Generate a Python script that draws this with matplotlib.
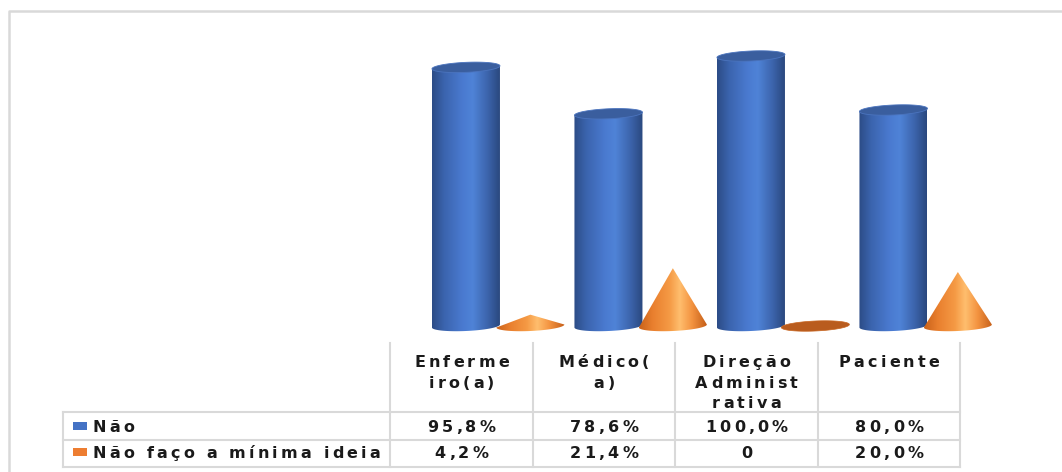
import numpy as np
import matplotlib
matplotlib.use("Agg")
import matplotlib.pyplot as plt
from matplotlib.colors import LinearSegmentedColormap
from matplotlib.patches import Polygon, Rectangle
from matplotlib.font_manager import FontProperties, findfont, get_font

try:
    from matplotlib.ft2font import LoadFlags
    NO_HINT = LoadFlags.NO_HINTING
except ImportError:
    from matplotlib.ft2font import LOAD_NO_HINTING as NO_HINT

# ---- data ----
categories = [["Enferme", "iro(a)"], ["Médico(", "a)"],
              ["Direção", "Administ", "rativa"], ["Paciente"]]
series_names = ["Não", "Não faço a mínima ideia"]
nao = [95.8, 78.6, 100.0, 80.0]
nao_ideia = [4.2, 21.4, 0.0, 20.0]
nao_labels = ["95,8%", "78,6%", "100,0%", "80,0%"]
nao_ideia_labels = ["4,2%", "21,4%", "0", "20,0%"]

W, H, DPI = 1062, 472, 100
BLUE, ORANGE = "#4472C4", "#ED7D31"
GRID = "#D9D9D9"

fig = plt.figure(figsize=(W / DPI, H / DPI), dpi=DPI, facecolor="white")

# pixel-space layer for the frame and the data table
lay = fig.add_axes([0, 0, 1, 1])
lay.set_xlim(0, W); lay.set_ylim(H, 0); lay.axis("off")

# ---- letter-spaced text ----
FP = FontProperties(family="DejaVu Sans", weight="bold", size=11.5)
_font = get_font(findfont(FP))
_font.set_size(FP.get_size_in_points(), 72)
TRACK = 3.2


def advances(s):
    out = []
    for c in s:
        g = _font.load_char(ord(c), flags=NO_HINT)
        out.append(g.linearHoriAdvance / 65536 * DPI / 72)
    return out


def tracked(x, y, s, ha="center", color="#1a1a1a"):
    adv = advances(s)
    total = sum(adv) + TRACK * (len(s) - 1)
    x0 = x - total / 2 if ha == "center" else x
    for c, a in zip(s, adv):
        lay.text(x0, y, c, fontproperties=FP, color=color, ha="left", va="baseline")
        x0 += a + TRACK


# outer chart-area border (runs off the right and bottom edges)
lay.plot([9, 9, W], [H, 11, 11], color=GRID, lw=1.8, solid_capstyle="butt")

# ---- table ----
col_edges = [390, 533, 675, 818, 960]
leg_left, head_top = 63, 343
row_lines = [412, 440, 467]
for x in col_edges:
    lay.plot([x, x], [head_top, row_lines[-1]], color=GRID, lw=1.5)
lay.plot([leg_left, leg_left], [row_lines[0], row_lines[-1]], color=GRID, lw=1.5)
for y in row_lines:
    lay.plot([leg_left, col_edges[-1]], [y, y], color=GRID, lw=1.5)

for i, lines in enumerate(categories):
    cx = (col_edges[i] + col_edges[i + 1]) / 2
    for k, ln in enumerate(lines):
        tracked(cx, 367 + 20.5 * k, ln)

row_base = [432, 458]
for r, (name, labels, col) in enumerate(zip(series_names, [nao_labels, nao_ideia_labels],
                                             [BLUE, ORANGE])):
    yb = row_base[r]
    lay.add_patch(Rectangle((73, yb - 10.5), 14, 8, color=col, lw=0))
    tracked(93, yb, name, ha="left")
    for i, lab in enumerate(labels):
        cx = (col_edges[i] + col_edges[i + 1]) / 2
        tracked(cx, yb, lab)

# ---- 3D-look cylinders and cones ----
# value 0 sits at pixel row 326, 100 % is 270 px above it; one category = one table column
base_px, px_y = 326, 270 / 100.0
px_x = (col_edges[-1] - col_edges[0]) / 4.0
top_px, bot_px = 20, 342
ax = fig.add_axes([col_edges[0] / W, (H - bot_px) / H, (W - col_edges[0]) / W,
                   (bot_px - top_px) / H])
ax.axis("off")
A = 34 / px_x          # half width
B = 5.0 / px_y         # ellipse half height
S = 1.5 / px_y         # perspective tilt of the ellipses
CYL_OFF, CONE_OFF = 0.533, 0.985

cyl_cmap = LinearSegmentedColormap.from_list(
    "cyl", [(0, "#2C4C86"), (0.18, "#3B64AE"), (0.45, "#4A7AD0"),
            (0.6, "#4F83D7"), (0.82, "#3C64AC"), (1, "#2A487E")])
cone_cmap = LinearSegmentedColormap.from_list(
    "cone", [(0, "#C9621A"), (0.2, "#E97F2E"), (0.45, "#F59A45"),
             (0.6, "#FFBE6E"), (0.78, "#F39340"), (1, "#C55E18")])
grad = np.linspace(0, 1, 256)[None, :]
t_front = np.linspace(np.pi, 2 * np.pi, 80)
t_full = np.linspace(0, 2 * np.pi, 160)


def ellipse_pts(cx, cy, t):
    return np.column_stack([cx + A * np.cos(t), cy + B * np.sin(t) + S * np.cos(t)])


def cylinder(cx, h):
    body = np.vstack([ellipse_pts(cx, 0, t_front), [[cx + A, h + S], [cx - A, h - S]]])
    clip = Polygon(body, closed=True, transform=ax.transData, fc="none", ec="none")
    ax.add_patch(clip)
    im = ax.imshow(grad, cmap=cyl_cmap, extent=[cx - A, cx + A, -B - S, h + S],
                   aspect="auto", interpolation="bilinear", zorder=2)
    im.set_clip_path(clip)
    ax.add_patch(Polygon(ellipse_pts(cx, h, t_full), closed=True, fc="#3A5E9E",
                         ec="#4B74BE", lw=0.6, zorder=3))


def cone(cx, h):
    if h <= 0:
        ax.add_patch(Polygon(ellipse_pts(cx, 0, t_full), closed=True, fc="#B95C1E",
                             ec="#C86520", lw=0.5, zorder=2))
        return
    sil = np.vstack([[[cx, h]], ellipse_pts(cx, 0, t_front)])
    clip = Polygon(sil, closed=True, transform=ax.transData, fc="none", ec="none")
    ax.add_patch(clip)
    im = ax.imshow(grad, cmap=cone_cmap, extent=[cx - A, cx + A, -B - S, h],
                   aspect="auto", interpolation="bilinear", zorder=2)
    im.set_clip_path(clip)


for i in range(len(nao)):
    cylinder(i + CYL_OFF, nao[i])
    cone(i + CONE_OFF, nao_ideia[i])

ax.set_xlim(0, (W - col_edges[0]) / px_x)
ax.set_ylim(-(bot_px - base_px) / px_y, (base_px - top_px) / px_y)

fig.savefig("out.png", dpi=DPI, facecolor="white")
